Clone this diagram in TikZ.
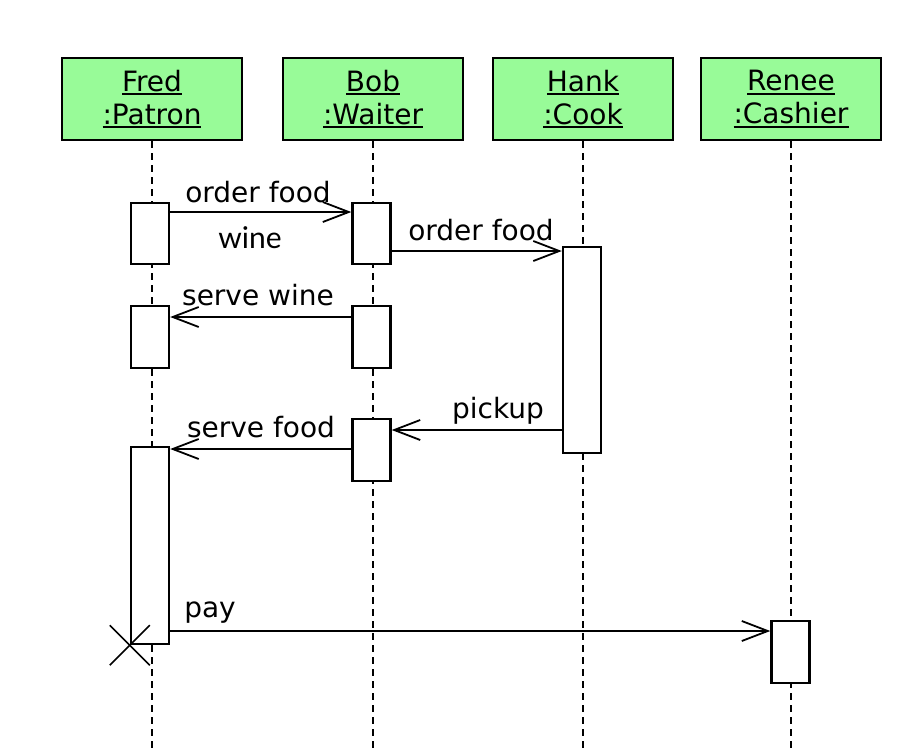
\documentclass[tikz,border=0pt]{standalone}
\usepackage{fontspec}
\setmainfont{DejaVu Sans}
\newfontfamily\notefont{Lato}
\usetikzlibrary{arrows.meta,calc}
\definecolor{objgreen}{RGB}{152,251,152}
% thick underline for object names
\newcommand\objname[1]{{\setbox0\hbox{#1}\leavevmode\rlap{\raisebox{-4pt}{\rule{\wd0}{2.2pt}}}\box0}}
\begin{document}
\begin{tikzpicture}[x=1pt,y=-1pt,
  header/.style={draw, line width=2.4pt, fill=objgreen, minimum width=180pt,
    minimum height=82pt, align=center, inner sep=0pt,
    font=\fontsize{28}{33}\selectfont},
  act/.style={draw, line width=2.4pt, fill=white, minimum width=38pt, inner sep=0pt},
  lifeline/.style={line width=2.2pt, dash pattern=on 7pt off 5pt},
  msg/.style={line width=2.2pt,
    -{Straight Barb[length=26pt,width=20pt,line width=1.8pt]}},
  lbl/.style={font=\fontsize{28}{33}\selectfont, anchor=base, inner sep=0pt},
  note/.style={font=\notefont\fontsize{30}{34}\selectfont, anchor=base, inner sep=0pt}
]
\useasboundingbox (0,0) rectangle (921,750);
\fill[white] (0,0) rectangle (921,750);

% objects
\node[header] (fred)  at (152,99) {\objname{Fred}\\\objname{:Patron}};
\node[header] (bob)   at (373,99) {\objname{Bob}\\\objname{:Waiter}};
\node[header] (hank)  at (583,99) {\objname{Hank}\\\objname{:Cook}};
\node[header] (renee) at (791,99) {\objname{Renee}\\\objname{:Cashier}};

% lifelines
\foreach \o in {fred,bob,hank,renee}
  \draw[lifeline] (\o.south) -- (\o.south |- 0,750);

% activations
\node[act, minimum height=61pt]  (fred1)  at (150,233.5) {};
\node[act, minimum height=61pt]  (bob1)   at (371.5,233.5) {};
\node[act, minimum height=206pt] (hank1)  at (582,350) {};
\node[act, minimum height=62pt]  (fred2)  at (150,337) {};
\node[act, minimum height=62pt]  (bob2)   at (371.5,337) {};
\node[act, minimum height=62pt]  (bob3)   at (371.5,450) {};
\node[act, minimum height=197pt] (fred3)  at (150,545.5) {};
\node[act, minimum height=62pt]  (renee1) at (790.5,652) {};

% messages
\draw[msg] (fred1.east |- 0,212) -- (bob1.west |- 0,212);
\node[lbl] (m1) at (258,202) {order food};
\node[note] (n1) at (250,248) {wine};

\draw[msg] (bob1.east |- 0,251) -- (hank1.west |- 0,251);
\node[lbl] (m2) at (481,240) {order food};

\draw[msg] (bob2.west |- 0,317) -- (fred2.east |- 0,317);
\node[lbl] (m3) at (258,305) {serve wine};

\draw[msg] (hank1.west |- 0,430) -- (bob3.east |- 0,430);
\node[lbl] (m4) at (498,418) {pickup};

\draw[msg] (bob3.west |- 0,449) -- (fred3.east |- 0,449);
\node[lbl] (m5) at (261,437) {serve food};

\draw[msg] (fred3.east |- 0,631) -- (renee1.west |- 0,631);
\node[lbl] (m6) at (210,617) {pay};

% destruction of the patron
\draw[line width=1.6pt] ($(fred3.south west)+(-20,-20)$) -- ($(fred3.south west)+(20,20)$);
\draw[line width=1.6pt] ($(fred3.south west)+(20,-20)$) -- ($(fred3.south west)+(-20,20)$);
\end{tikzpicture}
\end{document}
